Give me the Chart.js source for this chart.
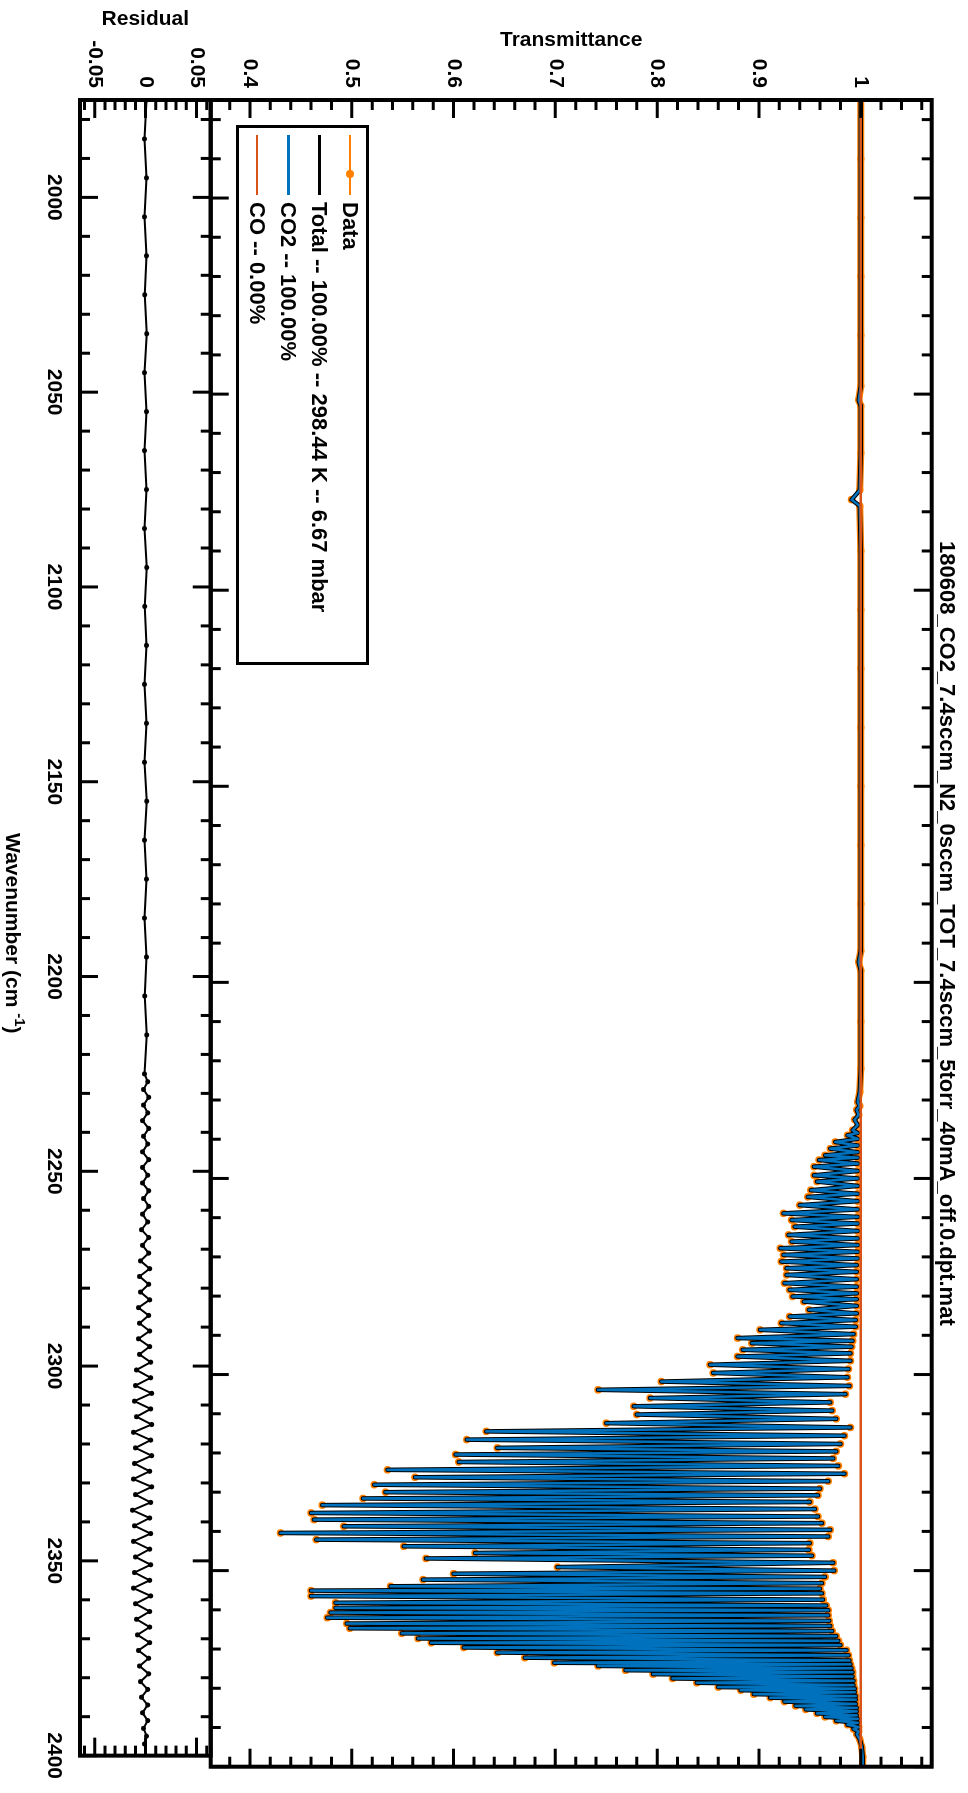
<!DOCTYPE html>
<html>
<head>
<meta charset="utf-8">
<script src="https://cdn.jsdelivr.net/npm/chart.js"></script>
<style>
  html, body { margin: 0; padding: 0; background: #fff; }
  body { width: 968px; height: 1793px; overflow: hidden; position: relative; }
  /* the figure is laid out landscape and then turned a quarter turn clockwise */
  #fig { position: absolute; left: 0; top: 0; width: 1793px; height: 968px;
         transform-origin: 0 0; transform: translate(968px, 0) rotate(90deg);
         font-family: 'Liberation Sans', Arial, sans-serif; color: #000; }
  #fig canvas { position: absolute; left: 0; top: 0; }
  #title { position: absolute; left: 100px; width: 1666.7px; top: 9.7px; text-align: center;
           font-weight: bold; font-size: 22px; line-height: 22px; white-space: nowrap; }
  #xlabel { position: absolute; left: 100px; width: 1666.7px; top: 944px; text-align: center;
            font-weight: bold; font-size: 21px; line-height: 21px; white-space: nowrap; }
  #xlabel span { font-size: 15px; position: relative; top: -9px; }
  #legend { position: absolute; left: 125px; top: 598.7px; width: 540px; height: 133.3px;
            border: 3.5px solid #000; box-sizing: border-box; background: #fff; }
  .lg-line { position: absolute; left: 135px; width: 60px; }
  .lg-dot { position: absolute; left: 170px; width: 8px; height: 8px; border-radius: 50%; background: #ff8000; }
  .lg-text { position: absolute; left: 202px; font-size: 22px; line-height: 22px; font-weight: bold; white-space: nowrap; }
</style>
</head>
<body>
<div id="fig">
  <canvas id="mainChart" width="1793" height="968"></canvas>
  <canvas id="resChart" width="1793" height="968"></canvas>
  <div id="title">180608_CO2_7.4sccm_N2_0sccm_TOT_7.4sccm_5torr_40mA_off.0.dpt.mat</div>
  <div id="xlabel">Wavenumber (cm <span>-1</span>)</div>
  <div id="legend"></div>
  <div class="lg-line" style="top:617px;height:2px;background:#ff8000"></div>
  <div class="lg-dot" style="top:614px"></div>
  <div class="lg-text" style="top:607px">Data</div>
  <div class="lg-line" style="top:647px;height:3.4px;background:#000"></div>
  <div class="lg-text" style="top:637.7px">Total -- 100.00% -- 298.44 K -- 6.67 mbar</div>
  <div class="lg-line" style="top:678.4px;height:2.7px;background:#0072bd"></div>
  <div class="lg-text" style="top:668.7px">CO2 -- 100.00%</div>
  <div class="lg-line" style="top:710.3px;height:2px;background:#d95319"></div>
  <div class="lg-text" style="top:700.3px">CO -- 0.00%</div>
</div>
<script>
// sample positions (cm-1): baseline, line centres and the tops between lines
var wavenumber = [
  1975, 1990, 2005, 2020, 2035, 2048, 2051.5, 2053, 2065, 2074.5,
  2076.9, 2078.5, 2090, 2105, 2120, 2135, 2150, 2165, 2180, 2192,
  2194.8, 2197, 2210, 2222, 2228, 2230.5, 2231.5, 2232.5, 2233.8, 2235.0,
  2236.4, 2237.7, 2238.4, 2239.0, 2239.9, 2240.7, 2241.6, 2242.4, 2243.3, 2244.1,
  2244.7, 2245.3, 2246.2, 2247.0, 2248.1, 2249.2, 2250.0, 2250.8, 2251.9, 2253.0,
  2253.9, 2254.7, 2255.8, 2256.8, 2257.9, 2258.9, 2259.8, 2260.6, 2261.5, 2262.3,
  2263.4, 2264.4, 2265.3, 2266.1, 2267.0, 2267.8, 2268.7, 2269.5, 2270.4, 2271.2,
  2272.1, 2272.9, 2273.8, 2274.6, 2275.7, 2276.7, 2277.6, 2278.4, 2279.3, 2280.1,
  2280.8, 2281.4, 2282.5, 2283.5, 2284.4, 2285.2, 2286.1, 2286.9, 2287.8, 2288.6,
  2289.7, 2290.7, 2291.4, 2292.0, 2292.9, 2293.7, 2294.6, 2295.4, 2296.5, 2297.5,
  2298.6, 2299.6, 2300.7, 2301.8, 2302.9, 2303.9, 2305.0, 2306.0, 2307.1, 2308.1,
  2309.2, 2310.2, 2311.3, 2312.4, 2313.5, 2314.5, 2315.6, 2316.6, 2317.7, 2318.7,
  2319.6, 2320.4, 2321.4, 2322.3, 2323.3, 2324.3, 2325.3, 2326.2, 2327.2, 2328.1,
  2329.1, 2330.0, 2330.8, 2331.6, 2332.5, 2333.3, 2334.3, 2335.3, 2336.2, 2337.0,
  2337.9, 2338.7, 2339.6, 2340.4, 2341.3, 2342.1, 2343.0, 2343.8, 2344.7, 2345.5,
  2346.2, 2346.9, 2348.0, 2349.1, 2350.0, 2350.8, 2351.6, 2352.3, 2353.2, 2354.0,
  2354.6, 2355.1, 2355.8, 2356.5, 2357.4, 2358.2, 2358.9, 2359.5, 2360.1, 2360.7,
  2361.4, 2362.0, 2362.8, 2363.5, 2364.1, 2364.7, 2365.4, 2366.0, 2366.7, 2367.3,
  2367.9, 2368.4, 2369.0, 2369.6, 2370.3, 2370.9, 2371.6, 2372.2, 2372.9, 2373.5,
  2373.9, 2374.3, 2374.9, 2375.4, 2375.9, 2376.4, 2377.0, 2377.5, 2378.1, 2378.6,
  2379.2, 2379.7, 2380.1, 2380.5, 2381.0, 2381.5, 2382.0, 2382.4, 2382.9, 2383.4,
  2384.0, 2384.5, 2385.0, 2385.4, 2385.9, 2386.4, 2386.9, 2387.3, 2387.8, 2388.3,
  2388.8, 2389.3, 2389.9, 2390.4, 2391.0, 2391.7, 2393.0, 2395.0, 2397.5, 2400
];

// measured transmittance at those samples
var transData = [
  1.000, 1.000, 1.000, 1.000, 1.000, 1.000, 0.998, 1.000, 1.000, 0.999,
  0.991, 0.999, 1.000, 1.000, 1.000, 1.000, 1.000, 1.000, 1.000, 1.000,
  0.998, 1.000, 1.000, 1.000, 0.999, 0.997, 0.999, 0.996, 0.998, 0.994,
  0.997, 0.992, 0.997, 0.987, 0.997, 0.975, 0.997, 0.970, 0.997, 0.965,
  0.997, 0.959, 0.997, 0.954, 0.997, 0.954, 0.997, 0.957, 0.997, 0.951,
  0.997, 0.948, 0.997, 0.940, 0.997, 0.924, 0.997, 0.932, 0.997, 0.935,
  0.997, 0.929, 0.997, 0.932, 0.997, 0.921, 0.997, 0.924, 0.997, 0.922,
  0.996, 0.927, 0.996, 0.927, 0.996, 0.925, 0.996, 0.930, 0.996, 0.933,
  0.996, 0.944, 0.996, 0.949, 0.996, 0.930, 0.995, 0.922, 0.995, 0.901,
  0.993, 0.879, 0.992, 0.893, 0.991, 0.884, 0.990, 0.879, 0.990, 0.852,
  0.988, 0.855, 0.987, 0.804, 0.989, 0.742, 0.985, 0.793, 0.970, 0.777,
  0.972, 0.780, 0.976, 0.750, 0.990, 0.632, 0.984, 0.613, 0.980, 0.643,
  0.976, 0.602, 0.973, 0.605, 0.978, 0.535, 0.984, 0.562, 0.968, 0.522,
  0.960, 0.533, 0.958, 0.511, 0.950, 0.471, 0.955, 0.460, 0.958, 0.463,
  0.962, 0.492, 0.970, 0.430, 0.968, 0.465, 0.950, 0.551, 0.949, 0.621,
  0.952, 0.573, 0.973, 0.702, 0.974, 0.600, 0.965, 0.570, 0.962, 0.538,
  0.960, 0.460, 0.962, 0.460, 0.963, 0.484, 0.966, 0.484, 0.968, 0.479,
  0.968, 0.476, 0.969, 0.495, 0.970, 0.498, 0.972, 0.549, 0.976, 0.565,
  0.978, 0.578, 0.980, 0.610, 0.986, 0.643, 0.988, 0.670, 0.989, 0.699,
  0.990, 0.742, 0.991, 0.769, 0.992, 0.796, 0.992, 0.815, 0.993, 0.839,
  0.993, 0.860, 0.994, 0.882, 0.994, 0.895, 0.995, 0.911, 0.995, 0.925,
  0.995, 0.936, 0.996, 0.946, 0.996, 0.957, 0.996, 0.965, 0.997, 0.976,
  0.997, 0.987, 0.998, 0.993, 0.998, 0.996, 0.999, 1.001, 1.002, 1.002
];

// fitted model: CO is 0 %, so Total and CO2 lie on the same curve
var transTotal = transData.slice();
var transCO2 = transTotal.slice();
var coWavenumber = [1975, 2400];
var transCO = [1, 1];

// fit residual
var resWavenumber = [
  1975, 1985, 1995, 2005, 2015, 2025, 2035, 2045, 2055, 2065,
  2075, 2085, 2095, 2105, 2115, 2125, 2135, 2145, 2155, 2165,
  2175, 2185, 2195, 2205, 2215, 2225,
  2227, 2229, 2231, 2233, 2235, 2237, 2239, 2241, 2243, 2245,
  2247, 2249, 2251, 2253, 2255, 2257, 2259, 2261, 2263, 2265,
  2267, 2269, 2271, 2273, 2275, 2277, 2279, 2281, 2283, 2285,
  2287, 2289, 2291, 2293, 2295, 2297, 2299, 2301, 2303, 2305,
  2307, 2309, 2311, 2313, 2315, 2317, 2319, 2321, 2323, 2325,
  2327, 2329, 2331, 2333, 2335, 2337, 2339, 2341, 2343, 2345,
  2347, 2349, 2351, 2353, 2355, 2357, 2359, 2361, 2363, 2365,
  2367, 2369, 2371, 2373, 2375, 2377, 2379, 2381, 2383, 2385,
  2387, 2389, 2391, 2393, 2395, 2397
];
var residual = [
  0.0010, -0.0010, 0.0008, -0.0012, 0.0010, -0.0008, 0.0012, -0.0010, 0.0009, -0.0011,
  0.0010, -0.0010, 0.0012, -0.0009, 0.0010, -0.0012, 0.0008, -0.0010, 0.0011, -0.0010,
  0.0009, -0.0012, 0.0010, -0.0009, 0.0011, -0.0010,
  0.002, -0.002, 0.003, -0.002, 0.002, -0.003, 0.003, -0.002, 0.002, -0.003,
  0.003, -0.003, 0.002, -0.003, 0.003, -0.002, 0.003, -0.003, 0.002, -0.004,
  0.003, -0.003, 0.003, -0.005, 0.004, -0.006, 0.003, -0.005, 0.004, -0.007,
  0.003, -0.006, 0.004, -0.007, 0.004, -0.006, 0.005, -0.009, 0.005, -0.010,
  0.006, -0.011, 0.005, -0.009, 0.006, -0.012, 0.005, -0.010, 0.006, -0.011,
  0.004, -0.012, 0.006, -0.010, 0.005, -0.013, 0.004, -0.011, 0.005, -0.012,
  0.004, -0.010, 0.005, -0.011, 0.004, -0.012, 0.005, -0.010, 0.004, -0.009,
  0.004, -0.008, 0.004, -0.007, 0.003, -0.006, 0.003, -0.005, 0.002, -0.004,
  0.002, -0.003, 0.002, -0.002, 0.001, -0.001
];

// tick labels
var wnTicks = [2000, 2050, 2100, 2150, 2200, 2250, 2300, 2350, 2400];
var transTicks = [0.4, 0.5, 0.6, 0.7, 0.8, 0.9, 1];
var resTicks = [-0.05, 0, 0.05];

var axisFont = { family: "'Liberation Sans', Arial, sans-serif", size: 21, weight: 'bold' };

function xy(xs, ys) {
    return xs.map(function (x, i) { return { x: x, y: ys[i] }; });
}

function fmt(v) {
    return String(Math.round(v * 1000) / 1000);
}

function isMultiple(v, step) {
    var r = v / step;
    return Math.abs(r - Math.round(r)) < 1e-6;
}

// box round the axes with inward ticks on all four sides
var frameTicks = {
    id: 'frameTicks',
    afterDraw: function (chart, args, opts) {
        var ctx = chart.ctx, a = chart.chartArea;
        var xs = chart.scales.x, ys = chart.scales.y;
        ctx.save();
        ctx.strokeStyle = '#000';
        ctx.lineWidth = 3;
        ctx.beginPath();
        for (var k = Math.ceil(xs.min / opts.xMinor); k * opts.xMinor <= xs.max + 1e-9; k++) {
            var v = k * opts.xMinor;
            var len = isMultiple(v, opts.xMajor) ? 18 : 10;
            var px = xs.getPixelForValue(v);
            ctx.moveTo(px, a.top); ctx.lineTo(px, a.top + len);
            ctx.moveTo(px, a.bottom); ctx.lineTo(px, a.bottom - len);
        }
        for (var j = Math.ceil(ys.min / opts.yMinor - 1e-9); j * opts.yMinor <= ys.max + 1e-9; j++) {
            var w = j * opts.yMinor;
            var l2 = isMultiple(w, opts.yMajor) ? 18 : 10;
            var py = ys.getPixelForValue(w);
            ctx.moveTo(a.left, py); ctx.lineTo(a.left + l2, py);
            ctx.moveTo(a.right, py); ctx.lineTo(a.right - l2, py);
        }
        ctx.stroke();
        ctx.lineWidth = 4;
        ctx.strokeRect(a.left, a.top, a.right - a.left, a.bottom - a.top);
        ctx.restore();
    }
};

function yScale(min, max, ticks, title, titlePad) {
    return {
        type: 'linear', min: min, max: max,
        afterBuildTicks: function (s) { s.ticks = ticks.map(function (v) { return { value: v }; }); },
        afterFit: function (s) { s.width = 100; },
        ticks: { font: axisFont, color: '#000', padding: 12, autoSkip: false, callback: fmt },
        grid: { display: false, drawTicks: false },
        border: { display: false },
        title: { display: true, text: title, font: axisFont, color: '#000', padding: { top: titlePad, bottom: 0 } }
    };
}

var mainChart = new Chart(document.getElementById('mainChart'), {
    type: 'line',
    data: {
        datasets: [
            {
                label: 'Data', data: xy(wavenumber, transData), order: 4,
                borderColor: '#ff8000', backgroundColor: '#ff8000', borderWidth: 2,
                pointRadius: 3.8, pointBorderWidth: 0, borderJoinStyle: 'round',
                segment: { borderWidth: function (c) { return (c.p0.parsed.y > 0.995 && c.p1.parsed.y > 0.995) ? 7 : 2; } }
            },
            { label: 'Total', data: xy(wavenumber, transTotal), order: 3, borderColor: '#000', borderWidth: 4.5, pointRadius: 0, borderJoinStyle: 'round' },
            { label: 'CO2', data: xy(wavenumber, transCO2), order: 2, borderColor: '#0072bd', borderWidth: 2.5, pointRadius: 0, borderJoinStyle: 'round' },
            { label: 'CO', data: xy(coWavenumber, transCO), order: 1, borderColor: '#d95319', borderWidth: 2.5, pointRadius: 0 }
        ]
    },
    options: {
        responsive: false, animation: false, devicePixelRatio: 1,
        layout: { padding: { top: 36.3, right: 26.3, bottom: 210.7, left: 0 } },
        plugins: {
            legend: { display: false }, tooltip: { enabled: false },
            frameTicks: { xMinor: 10, xMajor: 50, yMinor: 0.02, yMajor: 0.1 }
        },
        scales: {
            x: { type: 'linear', min: 1975, max: 2400, display: false },
            y: yScale(0.3614, 1.0697, transTicks, 'Transmittance', 27.4)
        }
    },
    plugins: [frameTicks]
});

var resChart = new Chart(document.getElementById('resChart'), {
    type: 'line',
    data: {
        datasets: [{
            label: 'Residual', data: xy(resWavenumber, residual),
            borderColor: '#000', backgroundColor: '#000', borderWidth: 2,
            pointRadius: 2.5, pointBorderWidth: 0
        }]
    },
    options: {
        responsive: false, animation: false, devicePixelRatio: 1,
        layout: { padding: { top: 757.3, right: 26.3, bottom: 0, left: 0 } },
        plugins: {
            legend: { display: false }, tooltip: { enabled: false },
            frameTicks: { xMinor: 10, xMajor: 50, yMinor: 0.01, yMajor: 0.05 }
        },
        scales: {
            x: {
                type: 'linear', min: 1975, max: 2400,
                afterBuildTicks: function (s) { s.ticks = wnTicks.map(function (v) { return { value: v }; }); },
                afterFit: function (s) { s.height = 80; },
                ticks: { font: axisFont, color: '#000', padding: 14, autoSkip: false, maxRotation: 0, minRotation: 0, callback: fmt },
                grid: { display: false, drawTicks: false },
                border: { display: false }
            },
            y: yScale(-0.0645, 0.064, resTicks, 'Residual', 6.9)
        }
    },
    plugins: [frameTicks]
});
</script>
</body>
</html>
